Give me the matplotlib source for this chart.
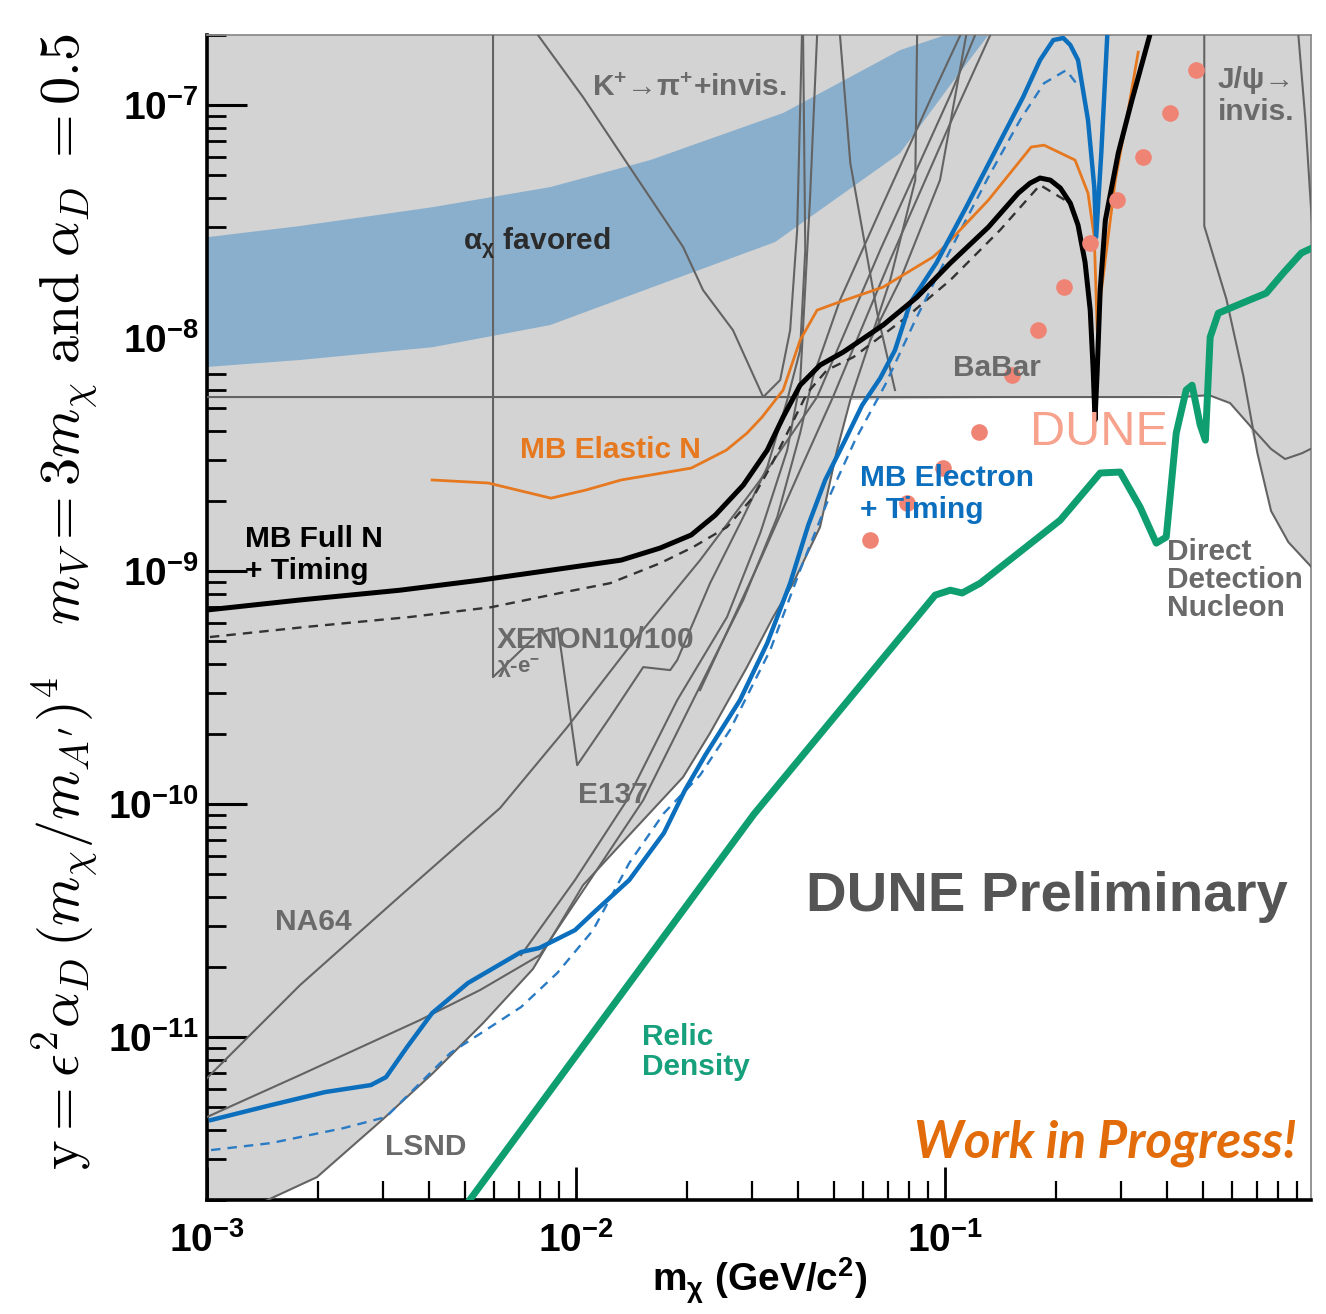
import numpy as np
import matplotlib
matplotlib.use("Agg")
import matplotlib.pyplot as plt
from matplotlib.ticker import LogLocator, NullFormatter, FixedLocator

plt.rcParams['font.family'] = ['Liberation Sans', 'DejaVu Sans']
plt.rcParams['font.weight'] = 'bold'

# all values are log10(m_chi / GeV) and log10(y)

# MB full N + timing (black) and without timing (dashed)
fullN_logm = [-3.000, -2.748, -2.477, -2.260, -2.068, -1.878, -1.772, -1.688, -1.623, -1.547, -1.482,
              -1.439, -1.393, -1.339, -1.276, -1.168, -1.076, -0.986, -0.883, -0.802, -0.770, -0.743,
              -0.715, -0.688, -0.661, -0.640, -0.621, -0.607, -0.599, -0.594, -0.588, -0.580, -0.566,
              -0.531, -0.496, -0.447]
fullN_logy = [-9.167, -9.124, -9.082, -9.039, -8.996, -8.953, -8.901, -8.845, -8.760, -8.631, -8.481,
              -8.339, -8.202, -8.116, -8.060, -7.944, -7.824, -7.678, -7.524, -7.378, -7.335, -7.313,
              -7.322, -7.356, -7.421, -7.515, -7.674, -7.880, -8.137, -8.352, -8.137, -7.794, -7.494,
              -7.206, -6.991, -6.708]
fullN_dash_logm = [-2.992, -2.734, -2.450, -2.230, -2.043, -1.908, -1.772, -1.683, -1.591, -1.520,
                   -1.474, -1.428, -1.374, -1.320, -1.249, -1.108, -0.986, -0.851, -0.743, -0.675]
fullN_dash_logy = [-9.283, -9.240, -9.197, -9.155, -9.094, -9.052, -8.966, -8.897, -8.811, -8.682,
                   -8.554, -8.408, -8.236, -8.137, -8.082, -7.914, -7.751, -7.536, -7.343, -7.408]

# MB elastic N (orange)
elastic_logm = [-2.390, -2.238, -2.068, -1.973, -1.878, -1.688, -1.593, -1.537, -1.496, -1.439, -1.393,
                -1.347, -1.295, -1.168, -1.033, -1.003, -0.883, -0.767, -0.732, -0.648, -0.613, -0.596,
                -0.588, -0.580, -0.539, -0.504, -0.477]
elastic_logy = [-8.609, -8.622, -8.687, -8.652, -8.609, -8.558, -8.481, -8.408, -8.339, -8.223, -8.009,
                -7.880, -7.850, -7.781, -7.652, -7.609, -7.408, -7.180, -7.172, -7.236, -7.378, -7.567,
                -7.966, -7.837, -7.322, -7.021, -6.773]

# MB electron + timing (blue solid / dashed)
electron_logm = [-2.989, -2.827, -2.680, -2.556, -2.515, -2.458, -2.390, -2.293, -2.149, -2.100, -2.003,
                 -1.954, -1.856, -1.762, -1.705, -1.650, -1.556, -1.482, -1.420, -1.371, -1.325, -1.271,
                 -1.225, -1.176, -1.136, -1.095, -1.024, -0.943, -0.859, -0.789, -0.743, -0.707, -0.680,
                 -0.661, -0.640, -0.613, -0.596, -0.591, -0.577, -0.561]
electron_logy = [-11.356, -11.292, -11.236, -11.206, -11.172, -11.043, -10.897, -10.768, -10.635, -10.618,
                 -10.541, -10.468, -10.326, -10.124, -9.940, -9.790, -9.554, -9.309, -9.052, -8.803, -8.609,
                 -8.438, -8.288, -8.172, -8.052, -7.850, -7.678, -7.438, -7.180, -6.966, -6.807, -6.721,
                 -6.712, -6.742, -6.807, -7.064, -7.352, -7.567, -7.206, -6.708]
electron_dash_logm = [-2.989, -2.827, -2.631, -2.515, -2.341, -2.149, -2.051, -1.954, -1.856, -1.762,
                      -1.664, -1.583, -1.474, -1.393, -1.312, -1.244, -1.163, -1.081, -0.986, -0.883,
                      -0.797, -0.732, -0.672, -0.637]
electron_dash_logy = [-11.485, -11.455, -11.391, -11.343, -11.069, -10.871, -10.725, -10.541, -10.253,
                      -10.039, -9.876, -9.682, -9.339, -8.996, -8.674, -8.438, -8.202, -7.923, -7.622,
                      -7.309, -7.064, -6.906, -6.850, -6.923]

# relic density (green)
relic_logm = [-2.328, -1.518, -1.027, -0.986, -0.954, -0.905, -0.688, -0.580, -0.526, -0.472, -0.428,
              -0.401, -0.374, -0.347, -0.331, -0.309, -0.295, -0.282, -0.260, -0.176, -0.130, -0.084,
              -0.035, 0.000]
relic_logy = [-11.785, -10.043, -9.103, -9.082, -9.094, -9.052, -8.781, -8.579, -8.575, -8.725, -8.880,
              -8.854, -8.408, -8.223, -8.202, -8.373, -8.438, -7.996, -7.893, -7.837, -7.807, -7.721,
              -7.635, -7.609]

# DUNE sensitivity points
dune_logm = [-1.203, -1.103, -1.005, -0.908, -0.818, -0.748, -0.678, -0.607, -0.534, -0.463, -0.390, -0.320]
dune_logy = [-8.867, -8.708, -8.558, -8.403, -8.159, -7.966, -7.781, -7.592, -7.408, -7.223, -7.034, -6.850]

# alpha_mu favored band
band_hi_logm = [-3.0, -2.748, -2.388, -2.070, -1.799, -1.439, -1.122, -1.000]
band_hi_logy = [-7.567, -7.519, -7.438, -7.352, -7.236, -7.034, -6.764, -6.700]
band_lo_logm = [-3.0, -2.748, -2.388, -2.070, -1.799, -1.461, -1.122, -0.986, -0.883]
band_lo_logy = [-8.124, -8.094, -8.039, -7.944, -7.785, -7.588, -7.206, -6.914, -6.700]

# existing limits (gray lines)
na64_logm = [-3.000, -2.748, -2.477, -2.206, -2.024, -1.846, -1.664, -1.501, -1.347, -1.176, -0.986, -0.919]
na64_logy = [-11.176, -10.777, -10.395, -10.017, -9.670, -9.305, -8.953, -8.609, -8.253, -7.622, -6.957, -6.700]
e137a_logm = [-3.000, -2.748, -2.423, -2.260, -2.098, -1.962, -1.818, -1.683, -1.547, -1.455, -1.393,
              -1.358, -1.285, -1.176, -1.041, -0.959]
e137a_logy = [-11.343, -11.163, -10.927, -10.798, -10.648, -10.326, -9.983, -9.554, -9.124, -8.768, -8.408,
              -8.167, -7.837, -7.451, -6.979, -6.700]
e137b_logm = [-2.149, -2.003, -1.862, -1.726, -1.591, -1.501, -1.428, -1.393, -1.366, -1.347]
e137b_logy = [-10.648, -10.326, -9.983, -9.554, -9.197, -8.837, -8.481, -8.193, -7.395, -6.700]
lsnd_logm = [-2.911, -2.837, -2.702, -2.523, -2.388, -2.252, -2.117, -1.981, -1.846, -1.710, -1.637,
             -1.537, -1.466, -1.412, -1.339, -1.293, -1.257, -1.203, -1.122, -1.014, -0.943]
lsnd_logy = [-11.764, -11.700, -11.601, -11.352, -11.155, -10.940, -10.708, -10.348, -10.116, -9.884, -9.695,
             -9.412, -9.197, -9.052, -8.811, -8.481, -8.266, -8.009, -7.751, -7.322, -6.700]
xenon_logm = [-2.225, -2.225, -2.098, -2.049, -1.997, -1.908, -1.818, -1.745, -1.726, -1.637, -1.547,
              -1.482, -1.428, -1.393, -1.379, -1.385]
xenon_logy = [-6.700, -9.455, -9.262, -9.245, -9.833, -9.627, -9.412, -9.425, -9.382, -9.052, -8.768,
              -8.554, -8.266, -8.052, -7.622, -6.700]
kpi_logm = [-2.103, -1.981, -1.862, -1.710, -1.656, -1.575, -1.493, -1.447, -1.420, -1.401, -1.388]
kpi_logy = [-6.700, -6.966, -7.249, -7.609, -7.794, -7.966, -8.253, -8.180, -7.966, -7.536, -6.700]
extra1_logm = [-1.285, -1.257, -1.184, -1.136]
extra1_logy = [-6.700, -7.249, -7.893, -8.223]
extra2_logm = [-1.076, -1.081, -1.149, -1.203]
extra2_logy = [-6.700, -7.322, -7.751, -8.009]
extra3_logm = [-1.664, -1.501, -1.393, -1.304, -1.149, -0.986, -0.878]
extra3_logy = [-9.511, -8.953, -8.567, -8.253, -7.665, -7.077, -6.700]
babar_logm = [-3.0, -0.363, -0.285, -0.228, -0.173, -0.117, -0.079, -0.033, -0.005]
babar_logy = [-8.253, -8.253, -8.245, -8.279, -8.378, -8.476, -8.519, -8.494, -8.472]
jpsi_logm = [-0.298, -0.298, -0.238, -0.192, -0.154, -0.117, -0.070, -0.005]
jpsi_logy = [-6.700, -7.519, -7.833, -8.163, -8.494, -8.742, -8.876, -8.987]
edge_logm = [-0.043, -0.024, -0.005]
edge_logy = [-6.700, -7.064, -7.536]

# outline of the still-open (white) region
allowed_logm = lsnd_logm[:17] + [-0.285, -0.228, -0.176, -0.154, -0.117, -0.070, -0.005, 0.2, 0.2, -3.0]
allowed_logy = lsnd_logy[:17] + [-8.245, -8.279, -8.373, -8.494, -8.742, -8.876, -8.987, -8.987, -12.5, -12.5]

gray_lines = [(na64_logm, na64_logy), (e137a_logm, e137a_logy), (e137b_logm, e137b_logy),
              (lsnd_logm, lsnd_logy), (xenon_logm, xenon_logy), (kpi_logm, kpi_logy),
              (extra1_logm, extra1_logy), (extra2_logm, extra2_logy), (extra3_logm, extra3_logy),
              (babar_logm, babar_logy), (jpsi_logm, jpsi_logy), (edge_logm, edge_logy)]

x_decades = [1e-3, 1e-2, 1e-1]
y_decades = [1e-11, 1e-10, 1e-9, 1e-8, 1e-7]


def P(a):
    return 10.0 ** np.asarray(a, dtype=float)


fig = plt.figure(figsize=(13.26, 13.14), dpi=100)
ax = fig.add_axes([0.1561, 0.0868, 0.8326, 0.8866])
ax.set_xscale('log')
ax.set_yscale('log')
ax.set_xlim(1e-3, 0.98)
ax.set_ylim(2.0e-12, 2.0e-7)
ax.set_facecolor('#d3d3d3')

ax.fill(P(allowed_logm), P(allowed_logy), color='white', lw=0, zorder=1)
ax.fill(P(band_hi_logm + band_lo_logm[::-1]), P(band_hi_logy + band_lo_logy[::-1]),
        color='#8aafcc', lw=0, zorder=2)
for m, y in gray_lines:
    ax.plot(P(m), P(y), color='#636363', lw=1.5, zorder=3)

ax.plot(P(relic_logm), P(relic_logy), color='#0f9e6f', lw=5, zorder=4, solid_capstyle='round',
        solid_joinstyle='round')
ax.plot(P(fullN_dash_logm), P(fullN_dash_logy), color='#333333', lw=1.7, ls=(0, (4, 3)), zorder=5)
ax.plot(P(electron_dash_logm), P(electron_dash_logy), color='#2a7bc4', lw=1.7, ls=(0, (4, 3)), zorder=5)
ax.plot(P(elastic_logm), P(elastic_logy), color='#e6781f', lw=2.0, zorder=6)
ax.plot(P(electron_logm), P(electron_logy), color='#0b6fbd', lw=3.2, zorder=6, solid_joinstyle='round')
ax.plot(P(fullN_logm), P(fullN_logy), color='black', lw=3.6, zorder=7, solid_joinstyle='round')
ax.plot(P(dune_logm), P(dune_logy), 'o', color='#f08474', ms=12, mec='none', zorder=8)

# axes styling
ax.xaxis.set_major_locator(FixedLocator(x_decades))
ax.xaxis.set_minor_locator(LogLocator(base=10, subs=np.arange(2, 10), numticks=100))
ax.yaxis.set_major_locator(FixedLocator(y_decades))
ax.yaxis.set_minor_locator(LogLocator(base=10, subs=np.arange(2, 10), numticks=100))
ax.xaxis.set_minor_formatter(NullFormatter())
ax.yaxis.set_minor_formatter(NullFormatter())
ax.tick_params(which='both', direction='in', top=False, right=False, colors='black')
ax.tick_params(axis='y', which='major', length=29, width=2.2, pad=6, labelsize=28)
ax.tick_params(axis='y', which='minor', length=14, width=2.0)
ax.tick_params(axis='x', which='major', length=24, width=2.0, pad=16, labelsize=28)
ax.tick_params(axis='x', which='minor', length=14, width=1.6)
for s in ['left', 'bottom']:
    ax.spines[s].set_linewidth(2.6)
    ax.spines[s].set_color('black')
for s in ['top', 'right']:
    ax.spines[s].set_linewidth(1.3)
    ax.spines[s].set_color('#8c8c8c')

fig.text(0.5725, 0.025, r'm$_{\mathdefault{χ}}$ (GeV/c$^{\mathdefault{2}}$)', fontsize=28,
         ha='center', va='center')
fig.text(0.049, 0.1096,
         r'$\mathrm{y} = \epsilon^2\alpha_D\,(m_\chi/m_{A^\prime})^4\quad m_V = 3m_\chi\ \mathrm{and}\ \alpha_D\ = 0.5$',
         rotation=90, ha='center', va='bottom', fontsize=40.5, math_fontfamily='cm', fontweight='normal')

# labels
gray = '#6a6a6a'
lab = dict(transform=ax.transAxes, ha='left', va='center', fontsize=21.5, zorder=9)
ax.text(0.3487, 0.9545, r'K$^{\mathdefault{+}}$→π$^{\mathdefault{+}}$+invis.', color=gray, **lab)
ax.text(0.2319, 0.8215, r'α$_{\mathdefault{χ}}$ favored', color='#2b2b2b', **lab)
ax.text(0.2835, 0.6438, 'MB Elastic N', color='#e6781f', **lab)
ax.text(0.0344, 0.5536, 'MB Full N\n+ Timing', color='black', linespacing=1.15, **lab)
ax.text(0.6757, 0.7142, 'BaBar', color=gray, **lab)
ax.text(0.5915, 0.6060, 'MB Electron\n+ Timing', color='#0b6fbd', linespacing=1.15, **lab)
ax.text(0.2627, 0.4807, 'XENON10/100', color=gray, **lab)
ax.text(0.2627, 0.4567, r'χ-e$^{\mathdefault{-}}$', color=gray, transform=ax.transAxes,
        ha='left', va='center', fontsize=16, zorder=9)
ax.text(0.3361, 0.3476, 'E137', color=gray, **lab)
ax.text(0.0616, 0.2386, 'NA64', color=gray, **lab)
ax.text(0.1612, 0.0455, 'LSND', color=gray, **lab)
ax.text(0.394, 0.127, 'Relic\nDensity', color='#17a07c', linespacing=1.1, **lab)
ax.text(0.9158, 0.9476, 'J/ψ→\ninvis.', color=gray, linespacing=1.15, **lab)
ax.text(0.8696, 0.5322, 'Direct\nDetection\nNucleon', color=gray, linespacing=1.0, **lab)
ax.text(0.7455, 0.6584, 'DUNE', color='#f6a28d', transform=ax.transAxes, ha='left', va='center',
        fontsize=35, fontweight='normal', zorder=9)
ax.text(0.5426, 0.2601, 'DUNE Preliminary', color='#555555', transform=ax.transAxes, ha='left',
        va='center', fontsize=40.5, zorder=9)
ax.text(0.9873, 0.0489, 'Work in Progress!', color='#e36c0a', transform=ax.transAxes, ha='right',
        va='center', fontsize=37, fontstyle='italic', family=['Lato', 'DejaVu Sans'], zorder=9)

fig.savefig('out.png', dpi=100)
